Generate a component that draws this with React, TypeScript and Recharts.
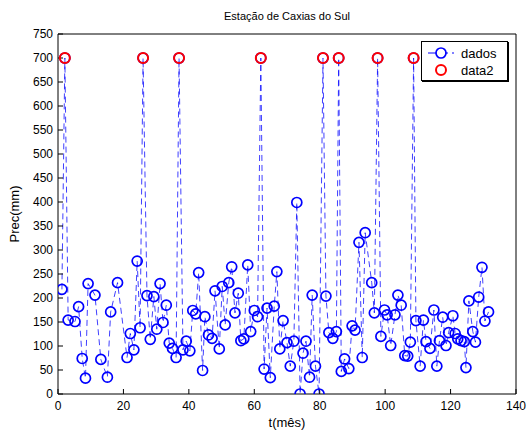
import { ComposedChart, Line, XAxis, YAxis } from 'recharts'

// monthly precipitation (x = month index, y = mm)
const mes = [
  1.2, 2.1, 3.1, 5.2, 6.3, 7.4, 8.4, 9.2, 11.3, 13.1,
  15.1, 16.1, 18.2, 21.1, 22.1, 23.2, 24.2, 25.1, 26, 27.2,
  28.2, 29.3, 30.2, 31.2, 32.1, 33.1, 34, 35, 36.1, 37,
  38.2, 39.2, 40.3, 41.2, 42.1, 43, 44.2, 44.9, 46, 47.1,
  48, 49.3, 50.2, 51.1, 52.2, 53.1, 54.1, 55.1, 55.9, 56.8,
  58, 58.9, 60, 61, 62, 63, 63.9, 64.9, 66.1, 66.9,
  67.8, 68.8, 70, 71, 72.1, 73, 74, 74.9, 75.8, 76.9,
  77.7, 78.7, 79.8, 81, 81.9, 82.8, 84, 85.1, 85.8, 86.6,
  87.6, 88.9, 89.9, 90.8, 92, 93, 93.9, 95.9, 96.7, 97.7,
  98.7, 99.8, 100.6, 101.7, 103, 103.9, 104.9, 106, 106.9, 107.7,
  108.7, 109.4, 110.7, 111.7, 112.5, 113.7, 114.9, 115.8, 116.6, 117.6,
  118.6, 119.4, 120.7, 121.4, 122.2, 123.2, 124.2, 124.7, 125.6, 126.8,
  127.6, 128.6, 129.6, 130.5, 131.6,
]

const prec = [
  218, 700, 154, 151, 182, 74, 33, 230, 206, 72,
  35, 171, 232, 76, 126, 92, 277, 138, 700, 205,
  114, 203, 135, 230, 149, 185, 106, 95, 76, 700,
  92, 110, 90, 174, 167, 253, 49, 161, 123, 116,
  215, 94, 224, 144, 232, 265, 169, 210, 111, 115,
  269, 130, 174, 161, 700, 52, 179, 34, 183, 255,
  94, 153, 107, 58, 110, 399, 0, 85, 110, 35,
  206, 58, 0, 700, 204, 128, 116, 130, 700, 47,
  73, 53, 142, 133, 316, 76, 336, 232, 169, 700,
  120, 175, 165, 101, 165, 206, 185, 80, 79, 108,
  700, 153, 58, 154, 109, 95, 175, 58, 111, 160,
  101, 128, 163, 126, 115, 111, 109, 55, 194, 130,
  108, 202, 264, 152, 171,
]

// red markers (data2)
const mesPico = [2.1, 26, 37, 62, 81, 85.8, 97.7, 108.7]
const precPico = [700, 700, 700, 700, 700, 700, 700, 700]

const xTicks = [0, 20, 40, 60, 80, 100, 120, 140]
const yTicks = [0, 50, 100, 150, 200, 250, 300, 350, 400, 450, 500, 550, 600, 650, 700, 750]

const BLUE = '#0000ff'
const RED = '#ff0000'
const FONT = 'Arial, "Liberation Sans", Helvetica, sans-serif'

const dados = mes.map((x, i) => ({ x, y: prec[i] }))
const data2 = mesPico.map((x, i) => ({ x, y: precPico[i] }))

function BlueDot(props: any) {
  const { cx, cy, index } = props
  if (cx == null || cy == null) return null
  return <circle key={'b' + index} cx={cx} cy={cy} r={5} fill="none" stroke={BLUE} strokeWidth={1.7} />
}

function RedDot(props: any) {
  const { cx, cy, index } = props
  if (cx == null || cy == null) return null
  return <circle key={'r' + index} cx={cx} cy={cy} r={5} fill="none" stroke={RED} strokeWidth={2} />
}

const tickStyle = { fontSize: 12, fill: '#000', fontFamily: FONT }

export default function App() {
  return (
    <div style={{ position: 'absolute', left: 0, top: 0, width: 530, height: 434, background: '#fff', fontFamily: FONT }}>
      <div style={{ position: 'absolute', left: 58, width: 458, top: 10, textAlign: 'center', fontSize: 11, color: '#000' }}>
        Estação de Caxias do Sul
      </div>
      <div style={{ position: 'absolute', left: 58, width: 458, top: 415, textAlign: 'center', fontSize: 13, color: '#000' }}>
        t(mês)
      </div>
      <div
        style={{
          position: 'absolute',
          left: 14,
          top: 214,
          transform: 'translate(-50%, -50%) rotate(-90deg)',
          fontSize: 13,
          color: '#000',
          whiteSpace: 'nowrap',
        }}
      >
        Prec(mm)
      </div>

      <ComposedChart width={530} height={434} margin={{ top: 33, right: 13, bottom: 15, left: 18 }}>
        <XAxis
          xAxisId="bottom"
          dataKey="x"
          type="number"
          domain={[0, 140]}
          ticks={xTicks}
          allowDataOverflow
          height={25}
          tickSize={-5}
          tickMargin={12}
          tick={tickStyle}
          stroke="#000"
          interval={0}
        />
        <XAxis
          xAxisId="top"
          orientation="top"
          dataKey="x"
          type="number"
          domain={[0, 140]}
          ticks={xTicks}
          allowDataOverflow
          height={1}
          tickSize={-5}
          tick={false}
          stroke="#000"
        />
        <YAxis
          yAxisId="left"
          type="number"
          domain={[0, 750]}
          ticks={yTicks}
          allowDataOverflow
          width={40}
          tickSize={-5}
          tickMargin={10}
          tick={tickStyle}
          stroke="#000"
          interval={0}
        />
        <YAxis
          yAxisId="right"
          orientation="right"
          type="number"
          domain={[0, 750]}
          ticks={yTicks}
          allowDataOverflow
          width={1}
          tickSize={-5}
          tick={false}
          stroke="#000"
        />
        <Line
          xAxisId="bottom"
          yAxisId="left"
          data={dados}
          dataKey="y"
          type="linear"
          stroke={BLUE}
          strokeWidth={1}
          strokeOpacity={0.75}
          strokeDasharray="6 4"
          dot={<BlueDot />}
          activeDot={false}
          isAnimationActive={false}
        />
        <Line
          xAxisId="top"
          yAxisId="right"
          data={data2}
          dataKey="y"
          type="linear"
          stroke="none"
          dot={<RedDot />}
          activeDot={false}
          isAnimationActive={false}
        />
      </ComposedChart>

      <div
        style={{
          position: 'absolute',
          left: 421,
          top: 41,
          width: 85,
          height: 38,
          border: '1px solid #000',
          boxShadow: '1px 1px 0 #000',
          background: '#fff',
          fontSize: 13,
          color: '#000',
        }}
      >
        <div style={{ position: 'absolute', left: 6, top: 3, height: 16, display: 'flex', alignItems: 'center' }}>
          <svg width={26} height={14}>
            <line x1={0} y1={7} x2={26} y2={7} stroke={BLUE} strokeWidth={1} strokeDasharray="8 4" />
            <circle cx={13} cy={7} r={5} fill="#fff" stroke={BLUE} strokeWidth={1.7} />
          </svg>
          <span style={{ marginLeft: 7 }}>dados</span>
        </div>
        <div style={{ position: 'absolute', left: 6, top: 20, height: 16, display: 'flex', alignItems: 'center' }}>
          <svg width={26} height={14}>
            <circle cx={13} cy={7} r={5} fill="none" stroke={RED} strokeWidth={2} />
          </svg>
          <span style={{ marginLeft: 7 }}>data2</span>
        </div>
      </div>
    </div>
  )
}
